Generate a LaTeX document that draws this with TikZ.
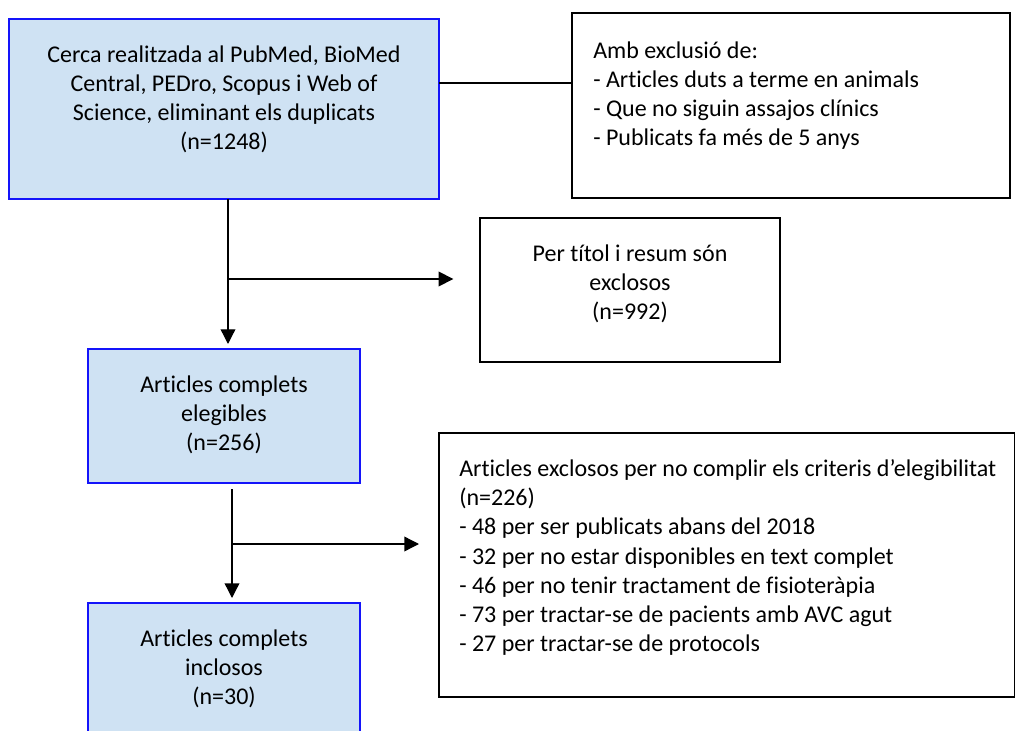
\documentclass[tikz,border=0pt]{standalone}
\usepackage{fontspec}
\setmainfont{Carlito}[Ligatures=NoCommon]
\usetikzlibrary{arrows.meta}
\definecolor{boxfill}{RGB}{207,226,243}
\definecolor{boxblue}{RGB}{20,20,250}
\tikzset{
  bluebox/.style 2 args={draw=boxblue, line width=1.5pt, fill=boxfill, inner sep=0pt, outer sep=0pt,
     minimum width=#1*0.75pt, minimum height=#2*0.75pt},
  blackbox/.style 2 args={draw=black, line width=1.2pt, fill=white, inner sep=0pt, outer sep=0pt,
     minimum width=#1*0.75pt, minimum height=#2*0.75pt},
  txt/.style={inner sep=0pt, font=\fontsize{18}{21.8}\selectfont},
  ctxt/.style={txt, align=center},
  ltxt/.style={txt, align=left, anchor=west},
  conn/.style={draw=black, line width=1pt},
  arr/.style={conn, -{Triangle[length=11pt, width=11pt]}},
}
\begin{document}
\begin{tikzpicture}[x=0.75pt, y=-0.75pt]
\useasboundingbox (0,0) rectangle (1015,731);
\clip (0,0) rectangle (1015,731);
% boxes
\node[bluebox={430}{180}] (b1) at (224,109) {};
\node[ctxt] (t1) at (224,99.5) {Cerca realitzada al PubMed, BioMed\\Central, PEDro, Scopus i Web of\\Science, eliminant els duplicats\\(n=1248)};
\node[blackbox={438}{185}] (b2) at (791,105.5) {};
\node[ltxt] (t2) at (593,95.5) {Amb exclusió de:\\- Articles duts a terme en animals\\- Que no siguin assajos clínics\\- Publicats fa més de 5 anys};
\node[blackbox={300}{144}] (b3) at (630,290) {};
\node[ctxt] (t3) at (630,284) {Per títol i resum són\\exclosos\\(n=992)};
\node[bluebox={272}{134}] (b4) at (224,416) {};
\node[ctxt] (t4) at (224,415) {Articles complets\\elegibles\\(n=256)};
\node[bluebox={272}{160}] (b5) at (224,683) {};
\node[ctxt] (t5) at (224,669) {Articles complets\\inclosos\\(n=30)};
\node[blackbox={576}{264}] (b6) at (727,565) {};
\node[ltxt] (t6) at (459,557.5) {Articles exclosos per no complir els criteris d’elegibilitat\\(n=226)\\- 48 per ser publicats abans del 2018\\- 32 per no estar disponibles en text complet\\- 46 per no tenir tractament de fisioteràpia\\- 73 per tractar-se de pacients amb AVC agut\\- 27 per tractar-se de protocols};
% connectors
\coordinate (c12) at (500,83);
\coordinate (j1) at (228,279);
\coordinate (j2) at (232,544);
\draw[conn] (b1.east |- c12) -- (b2.west |- c12);
\draw[arr, shorten >=3.75pt] (b1.south -| j1) -- (b4.north -| j1);
\draw[arr, shorten >=20pt] (j1) -- (b3.west |- j1);
\draw[arr, shorten <=4.5pt, shorten >=3.75pt] (b4.south -| j2) -- (b5.north -| j2);
\draw[arr, shorten >=15pt] (j2) -- (b6.west |- j2);
\end{tikzpicture}
\end{document}
